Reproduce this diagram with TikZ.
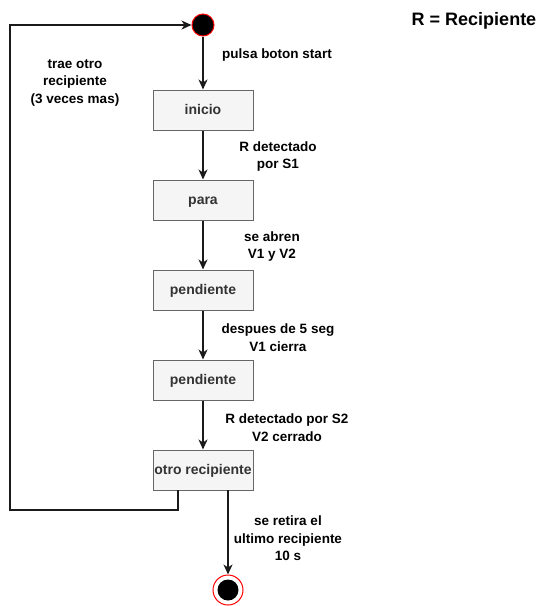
\documentclass[tikz,border=0pt]{standalone}
\usepackage{fontspec}
\setmainfont{Liberation Sans}
\usetikzlibrary{arrows.meta}
\definecolor{boxfill}{HTML}{F5F5F5}
\definecolor{boxline}{HTML}{666666}
\definecolor{boxtext}{HTML}{333333}
\definecolor{conn}{HTML}{1A1A1A}
\definecolor{redline}{HTML}{FF0000}
\begin{document}
\begin{tikzpicture}[x=1pt,y=-1pt,
  statebox/.style={draw=boxline,fill=boxfill,line width=1pt,minimum width=100pt,minimum height=40pt,inner sep=0pt,text=boxtext,font=\fontsize{14}{16}\selectfont\bfseries,text height=11pt,text depth=2pt},
  lbl/.style={align=center,inner sep=0pt,font=\fontsize{13.5}{17.5}\selectfont\bfseries},
  conector/.style={draw=conn,line width=1.5pt,-{Stealth[length=10pt,width=9pt,inset=3pt]}},
  startst/.style={circle,draw=redline,fill=black,line width=1pt,minimum size=22pt,inner sep=0pt},
]
\useasboundingbox (0,0) rectangle (549,606);
\node[startst] (s) at (203,25) {};
\node[statebox] (a) at (203,110) {inicio};
\node[statebox] (b) at (203,200) {para};
\node[statebox] (c) at (203,290) {pendiente};
\node[statebox] (d) at (203,380) {pendiente};
\node[statebox] (e) at (203,470) {otro recipiente};
\node[circle,draw=redline,fill=white,line width=1pt,minimum size=30pt,inner sep=0pt] (f) at (228,590) {};
\node[circle,fill=black,minimum size=21pt,inner sep=0pt] at (f) {};
\coordinate (eb) at (178,490);
\coordinate (ec) at (228,490);
\draw[conector] (s) -- (a);
\draw[conector] (a) -- (b);
\draw[conector] (b) -- (c);
\draw[conector] (c) -- (d);
\draw[conector] (d) -- (e);
\draw[conector] (ec) -- (f);
\draw[conector] (eb) -- (178,510) -- (10,510) -- (10,25) -- (s);
\node[lbl] at (277,55.5) {pulsa boton start};
\node[lbl] at (278,156.5) {R detectado\\por S1};
\node[lbl] at (272,246.5) {se abren\\V1 y V2};
\node[lbl] at (278,337.5) {despues de 5 seg\\V1 cierra};
\node[lbl] at (287,427.5) {R detectado por S2\\V2 cerrado};
\node[lbl] at (288,538.5) {se retira el\\ultimo recipiente\\10 s};
\node[lbl] at (75,82.5) {trae otro\\recipiente\\(3 veces mas)};
\node[inner sep=0pt,font=\fontsize{18}{20}\selectfont\bfseries] at (474,21) {R = Recipiente};
\end{tikzpicture}
\end{document}
